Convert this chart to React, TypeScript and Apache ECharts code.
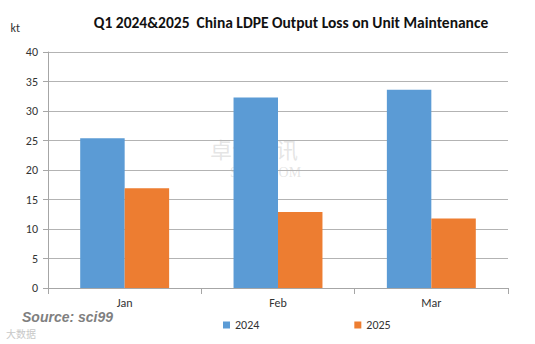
import React, { useEffect, useRef } from "react";
import * as echarts from "echarts";

const categories = ["Jan", "Feb", "Mar"];
const series2024 = [25.4, 32.3, 33.6];
const series2025 = [16.9, 12.9, 11.8];
const seriesNames = ["2024", "2025"];
const titleText = "Q1 2024&2025  China LDPE Output Loss on Unit Maintenance";

export default function App() {
  const ref = useRef<HTMLDivElement>(null);
  useEffect(() => {
    if (!ref.current) return;
    const chart = echarts.init(ref.current, null, { renderer: "svg" });
    const font = "Calibri, Carlito, 'Liberation Sans', Arial, sans-serif";
    chart.setOption({
      animation: false,
      backgroundColor: "#ffffff",
      textStyle: { fontFamily: font },
      title: {
        text: titleText,
        left: 286,
        textAlign: "center",
        top: 9,
        textStyle: { fontSize: 15.5, fontWeight: "bold", color: "#111", fontFamily: font },
      },
      legend: {
        data: seriesNames,
        bottom: 8,
        left: 218,
        itemGap: 95,
        itemWidth: 7,
        itemHeight: 7,
        icon: "rect",
        textStyle: { fontSize: 12, color: "#333", fontFamily: font },
      },
      grid: { left: 48, right: 27, top: 52, bottom: 56 },
      xAxis: {
        type: "category",
        data: categories,
        axisLine: { lineStyle: { color: "#a6a6a6" } },
        axisTick: { show: true, alignWithLabel: false, length: 6, lineStyle: { color: "#a6a6a6" } },
        axisLabel: { color: "#333", fontSize: 12, margin: 9, fontFamily: font },
      },
      yAxis: {
        type: "value",
        min: 0,
        max: 40,
        interval: 5,
        name: "kt",
        nameLocation: "end",
        nameGap: 18,
        nameTextStyle: { color: "#333", fontSize: 12, align: "right", padding: [0, 28, 0, 0] },
        axisLine: { show: true, lineStyle: { color: "#a6a6a6" } },
        axisTick: { show: true, length: 5, lineStyle: { color: "#a6a6a6" } },
        axisLabel: { color: "#333", fontSize: 12, margin: 10, fontFamily: font },
        splitLine: { lineStyle: { color: "#b3b3b3" } },
      },
      series: [
        {
          name: seriesNames[0],
          type: "bar",
          data: series2024,
          barWidth: "29%",
          barGap: "0%",
          itemStyle: { color: "#5b9bd5" },
        },
        {
          name: seriesNames[1],
          type: "bar",
          data: series2025,
          barWidth: "29%",
          itemStyle: { color: "#ed7d31" },
        },
      ],
      graphic: [
        {
          type: "text",
          left: 22,
          top: 310,
          style: {
            text: "Source: sci99",
            fontSize: 14,
            fontStyle: "italic",
            fontWeight: "bold",
            fill: "#7f7f7f",
            fontFamily: "'Liberation Sans', Arial, sans-serif",
          },
        },
        {
          type: "text",
          left: 6,
          top: 328,
          style: {
            text: "大数据",
            fontSize: 10,
            fill: "#c8c8c8",
            fontFamily: "'Noto Sans CJK SC', sans-serif",
          },
        },
        {
          type: "text",
          left: 210,
          top: 137,
          z: 0,
          style: {
            text: "卓创资讯",
            fontSize: 22,
            fill: "rgba(180,180,180,0.35)",
            fontFamily: "'Noto Sans CJK SC', sans-serif",
          },
        },
        {
          type: "text",
          left: 230,
          top: 165,
          z: 0,
          style: {
            text: "SCI99.COM",
            fontSize: 14,
            fill: "rgba(180,180,180,0.35)",
            fontFamily: "'Liberation Serif', serif",
          },
        },
      ],
    });
    return () => chart.dispose();
  }, []);
  return <div ref={ref} style={{ width: 535, height: 344, position: "absolute", left: 0, top: 0 }} />;
}
